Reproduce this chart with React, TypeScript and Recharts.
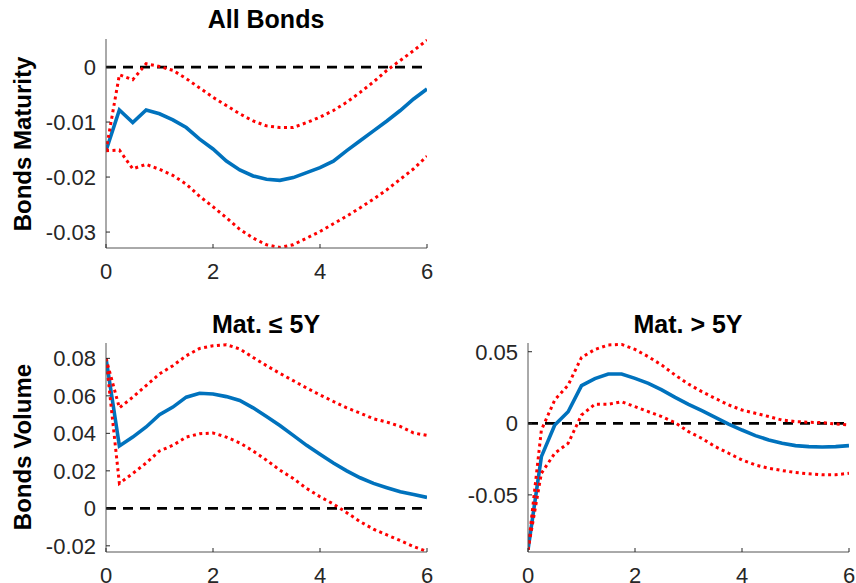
import React from "react";
import { LineChart, Line, XAxis, YAxis, ReferenceLine } from "recharts";

// Horizon (years) shared by every panel
const horizon = [
  0, 0.25, 0.5, 0.75, 1, 1.25, 1.5, 1.75, 2, 2.25, 2.5, 2.75, 3, 3.25, 3.5,
  3.75, 4, 4.25, 4.5, 4.75, 5, 5.25, 5.5, 5.75, 6,
];
const xTicks = [0, 2, 4, 6];

// All Bonds: response of bonds maturity
const allMid = [
  -0.0152, -0.0078, -0.0101, -0.0078, -0.0085, -0.0096, -0.011, -0.0131,
  -0.0149, -0.0171, -0.0187, -0.0198, -0.0204, -0.0206, -0.0201, -0.0192,
  -0.0183, -0.0171, -0.0152, -0.0134, -0.0116, -0.0098, -0.0079, -0.0058,
  -0.004,
];
const allHi = [
  -0.0152, -0.0014, -0.0023, 0.0006, 0.0001, -0.0006, -0.0021, -0.0038,
  -0.0055, -0.007, -0.0085, -0.0098, -0.0107, -0.011, -0.011, -0.0101,
  -0.0091, -0.0079, -0.0064, -0.0046, -0.0027, -0.0006, 0.0012, 0.003, 0.0049,
];
const allLo = [
  -0.0152, -0.0151, -0.0185, -0.0177, -0.0186, -0.0197, -0.0213, -0.0235,
  -0.0254, -0.0274, -0.0295, -0.0311, -0.0323, -0.0328, -0.0323, -0.0311,
  -0.0299, -0.0285, -0.0271, -0.0256, -0.024, -0.0223, -0.0204, -0.0185,
  -0.0162,
];
const allTicks = [-0.03, -0.02, -0.01, 0];

// Maturity <= 5Y: response of bonds volume
const shortMid = [
  0.08, 0.0333, 0.038, 0.0434, 0.05, 0.054, 0.0593, 0.0614, 0.061, 0.0596,
  0.0575, 0.0536, 0.049, 0.0442, 0.0389, 0.0336, 0.0288, 0.0242, 0.02, 0.0163,
  0.0133, 0.011, 0.0088, 0.0074, 0.0058,
];
const shortHi = [
  0.08, 0.0536, 0.0593, 0.0655, 0.0717, 0.0761, 0.0814, 0.0853, 0.0867,
  0.0873, 0.085, 0.0805, 0.0761, 0.072, 0.0681, 0.0642, 0.0605, 0.057, 0.0536,
  0.0508, 0.0478, 0.046, 0.0437, 0.0402, 0.0389,
];
const shortLo = [
  0.08, 0.0133, 0.0186, 0.0242, 0.0306, 0.0336, 0.038, 0.0398, 0.0402, 0.038,
  0.0349, 0.0306, 0.0257, 0.0204, 0.0159, 0.0106, 0.0062, 0.0023, -0.0023,
  -0.0071, -0.0111, -0.0142, -0.0172, -0.0204, -0.023,
];
const shortTicks = [-0.02, 0, 0.02, 0.04, 0.06, 0.08];

// Maturity > 5Y: response of bonds volume
const longMid = [
  -0.0884, -0.0233, -0.0012, 0.0081, 0.0263, 0.0312, 0.0344, 0.0344, 0.0314,
  0.0279, 0.0233, 0.0181, 0.0133, 0.0088, 0.0042, -0.0005, -0.0047, -0.0086,
  -0.0116, -0.014, -0.0156, -0.0163, -0.0165, -0.0163, -0.0156,
];
const longHi = [
  -0.0884, -0.0047, 0.0163, 0.0267, 0.046, 0.0516, 0.0547, 0.0551, 0.0516,
  0.0465, 0.0407, 0.0337, 0.0274, 0.0221, 0.0174, 0.0128, 0.0093, 0.007,
  0.0047, 0.0023, 0.0012, 0.0007, 0.0005, -0.0005, -0.0012,
];
const longLo = [
  -0.0884, -0.0349, -0.0209, -0.014, 0.0058, 0.0133, 0.0133, 0.0151, 0.0116,
  0.0081, 0.0047, 0.0005, -0.0058, -0.0105, -0.0163, -0.0209, -0.0256,
  -0.0291, -0.0314, -0.033, -0.0344, -0.0353, -0.036, -0.036, -0.0349,
];
const longTicks = [-0.05, 0, 0.05];

const FONT = "'Liberation Sans', Arial, Helvetica, sans-serif";
const INK = "#262626";
const BLUE = "#0072BD";
const RED = "#FF0000";
const TICK_FONT = 22;

const fmtY = (v: number) => (v === 0 ? "0" : v.toFixed(2));
const fmtX = (v: number) => String(v);

const build = (mid: number[], lo: number[], hi: number[]) =>
  horizon.map((t, i) => ({ t, mid: mid[i], lo: lo[i], hi: hi[i] }));

const XTick = (props: any) => {
  const { x, y, payload } = props;
  return (
    <g>
      <line x1={x} y1={y} x2={x} y2={y - 4} stroke={INK} strokeWidth={1} />
      <text
        x={x}
        y={y + 31}
        textAnchor="middle"
        fill={INK}
        fontSize={TICK_FONT}
        fontFamily={FONT}
      >
        {fmtX(payload.value)}
      </text>
    </g>
  );
};

const YTick = (props: any) => {
  const { x, y, payload } = props;
  return (
    <g>
      <line x1={x} y1={y} x2={x + 4} y2={y} stroke={INK} strokeWidth={1} />
      <text
        x={x - 10}
        y={y}
        dy="0.36em"
        textAnchor="end"
        fill={INK}
        fontSize={TICK_FONT}
        fontFamily={FONT}
      >
        {fmtY(payload.value)}
      </text>
    </g>
  );
};

type PanelProps = {
  left: number;
  top: number;
  width: number;
  height: number;
  yAxisWidth: number;
  marginTop: number;
  marginRight: number;
  xAxisHeight: number;
  domain: [number, number];
  yTicks: number[];
  mid: number[];
  lo: number[];
  hi: number[];
};

const Panel = (p: PanelProps) => (
  <div style={{ position: "absolute", left: p.left, top: p.top }}>
    <LineChart
      width={p.width}
      height={p.height}
      data={build(p.mid, p.lo, p.hi)}
      margin={{ top: p.marginTop, right: p.marginRight, left: 0, bottom: 0 }}
      style={{ overflow: "visible" }}
    >
      <XAxis
        dataKey="t"
        type="number"
        domain={[0, 6]}
        ticks={xTicks}
        allowDataOverflow
        height={p.xAxisHeight}
        tickSize={0}
        tickMargin={0}
        tickLine={false}
        axisLine={{ stroke: "#555555", strokeWidth: 1 }}
        tick={<XTick />}
        interval={0}
      />
      <YAxis
        type="number"
        domain={p.domain}
        ticks={p.yTicks}
        allowDataOverflow
        width={p.yAxisWidth}
        tickSize={0}
        tickMargin={0}
        tickLine={false}
        axisLine={{ stroke: "#555555", strokeWidth: 1 }}
        tick={<YTick />}
        interval={0}
      />
      <ReferenceLine
        y={0}
        stroke="#000000"
        strokeWidth={2.8}
        strokeDasharray="10 7"
      />
      <Line
        dataKey="mid"
        type="linear"
        stroke={BLUE}
        strokeWidth={3.6}
        dot={false}
        isAnimationActive={false}
      />
      <Line
        dataKey="lo"
        type="linear"
        stroke={RED}
        strokeWidth={3}
        strokeDasharray="3 3.5"
        dot={false}
        isAnimationActive={false}
      />
      <Line
        dataKey="hi"
        type="linear"
        stroke={RED}
        strokeWidth={3}
        strokeDasharray="3 3.5"
        dot={false}
        isAnimationActive={false}
      />
    </LineChart>
  </div>
);

const titleStyle = (cx: number, top: number): React.CSSProperties => ({
  position: "absolute",
  left: cx - 150,
  top,
  width: 300,
  height: 25,
  lineHeight: "25px",
  textAlign: "center",
  fontFamily: FONT,
  fontWeight: "bold",
  fontSize: 25,
  color: "#000000",
  whiteSpace: "nowrap",
});

const yLabelStyle = (cx: number, cy: number): React.CSSProperties => ({
  position: "absolute",
  left: cx - 150,
  top: cy - 12,
  width: 300,
  height: 24,
  lineHeight: "24px",
  textAlign: "center",
  fontFamily: FONT,
  fontWeight: "bold",
  fontSize: 24,
  color: "#000000",
  whiteSpace: "nowrap",
  transform: "rotate(-90deg)",
});

export default function App() {
  return (
    <div
      style={{
        position: "absolute",
        left: 0,
        top: 0,
        width: 856,
        height: 583,
        overflow: "hidden",
        background: "#ffffff",
      }}
    >
      <Panel
        left={0}
        top={0}
        width={440}
        height={300}
        yAxisWidth={106}
        marginTop={39}
        marginRight={13}
        xAxisHeight={52}
        domain={[-0.0329, 0.0051]}
        yTicks={allTicks}
        mid={allMid}
        lo={allLo}
        hi={allHi}
      />
      <Panel
        left={0}
        top={300}
        width={440}
        height={300}
        yAxisWidth={106}
        marginTop={43}
        marginRight={13}
        xAxisHeight={48}
        domain={[-0.0233, 0.0882]}
        yTicks={shortTicks}
        mid={shortMid}
        lo={shortLo}
        hi={shortHi}
      />
      <Panel
        left={428}
        top={300}
        width={428}
        height={300}
        yAxisWidth={100}
        marginTop={43}
        marginRight={7}
        xAxisHeight={48}
        domain={[-0.0899, 0.0561]}
        yTicks={longTicks}
        mid={longMid}
        lo={longLo}
        hi={longHi}
      />

      <div style={titleStyle(266, 7)}>All Bonds</div>
      <div style={titleStyle(266, 312)}>Mat. ≤ 5Y</div>
      <div style={titleStyle(688, 312)}>Mat. &gt; 5Y</div>

      <div style={yLabelStyle(23, 144)}>Bonds Maturity</div>
      <div style={yLabelStyle(23, 447)}>Bonds Volume</div>
    </div>
  );
}
